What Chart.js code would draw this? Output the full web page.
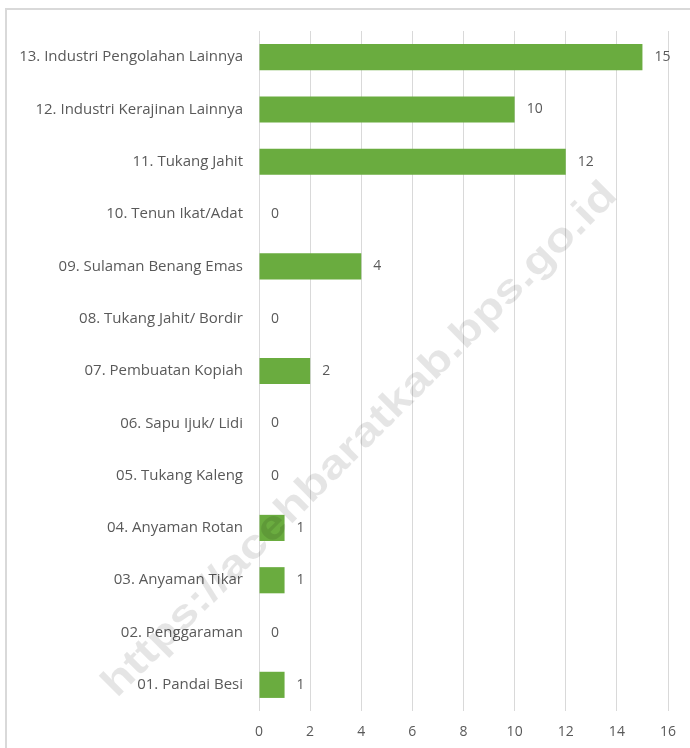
<!DOCTYPE html>
<html>
<head>
<meta charset="utf-8">
<script src="https://cdn.jsdelivr.net/npm/chart.js@4"></script>
<style>
  html, body { margin: 0; padding: 0; background: #fff; }
  #wrap { width: 690px; height: 748px; position: relative; }
</style>
</head>
<body>
<div id="wrap"><canvas id="chart" width="690" height="748"></canvas></div>
<script>
const categories = [
  "13. Industri Pengolahan Lainnya",
  "12. Industri Kerajinan Lainnya",
  "11. Tukang Jahit",
  "10. Tenun Ikat/Adat",
  "09. Sulaman Benang Emas",
  "08. Tukang Jahit/ Bordir",
  "07. Pembuatan Kopiah",
  "06. Sapu Ijuk/ Lidi",
  "05. Tukang Kaleng",
  "04. Anyaman Rotan",
  "03. Anyaman Tikar",
  "02. Penggaraman",
  "01. Pandai Besi"
];
const values = [15, 10, 12, 0, 4, 0, 2, 0, 0, 1, 1, 0, 1];
const xMax = 16;
const xStep = 2;

const textColor = "#595959";
const fontFamily = "'Open Sans', sans-serif";

// value labels at the end of each bar
const valueLabels = {
  id: "valueLabels",
  afterDatasetsDraw(chart) {
    const ctx = chart.ctx;
    const meta = chart.getDatasetMeta(0);
    ctx.save();
    ctx.fillStyle = textColor;
    ctx.font = "14px " + fontFamily;
    ctx.textBaseline = "middle";
    ctx.textAlign = "left";
    meta.data.forEach((bar, i) => {
      ctx.fillText(String(values[i]), bar.x + 12, bar.y);
    });
    ctx.restore();
  }
};

// frame lines and the diagonal watermark
const decor = {
  id: "decor",
  beforeDraw(chart) {
    const ctx = chart.ctx;
    ctx.save();
    ctx.strokeStyle = "#d9d9d9";
    ctx.lineWidth = 2;
    ctx.beginPath();
    ctx.moveTo(6, 748);
    ctx.lineTo(6, 9);
    ctx.lineTo(690, 9);
    ctx.stroke();
    ctx.restore();
  },
  afterDraw(chart) {
    const ctx = chart.ctx;
    ctx.save();
    ctx.translate(360, 440);
    ctx.rotate(-Math.PI / 4);
    ctx.font = "bold 40px 'Liberation Sans', sans-serif";
    ctx.fillStyle = "rgba(0,0,0,0.1)";
    ctx.textAlign = "center";
    ctx.textBaseline = "middle";
    const txt = "https://acehbaratkab.bps.go.id";
    const w = ctx.measureText(txt).width;
    ctx.scale(710 / w, 1);
    ctx.fillText(txt, 0, 0);
    ctx.restore();
  }
};

new Chart(document.getElementById("chart"), {
  type: "bar",
  data: {
    labels: categories,
    datasets: [{
      data: values,
      backgroundColor: "#6aac3f",
      borderWidth: 0,
      categoryPercentage: 0.5,
      barPercentage: 1.0
    }]
  },
  options: {
    indexAxis: "y",
    responsive: false,
    animation: false,
    layout: { padding: { top: 31, right: 22, bottom: 0, left: 0 } },
    plugins: {
      legend: { display: false },
      tooltip: { enabled: false }
    },
    scales: {
      x: {
        min: 0,
        max: xMax,
        afterFit(scale) { scale.height = 37; },
        ticks: {
          stepSize: xStep,
          color: textColor,
          padding: 13,
          font: { family: fontFamily, size: 14 }
        },
        grid: { color: "#d9d9d9", drawTicks: false },
        border: { display: false }
      },
      y: {
        afterFit(scale) { scale.width = 259; },
        ticks: {
          color: textColor,
          padding: 8,
          font: { family: fontFamily, size: 15 }
        },
        grid: { display: false },
        border: { display: false }
      }
    }
  },
  plugins: [decor, valueLabels]
});
</script>
</body>
</html>
